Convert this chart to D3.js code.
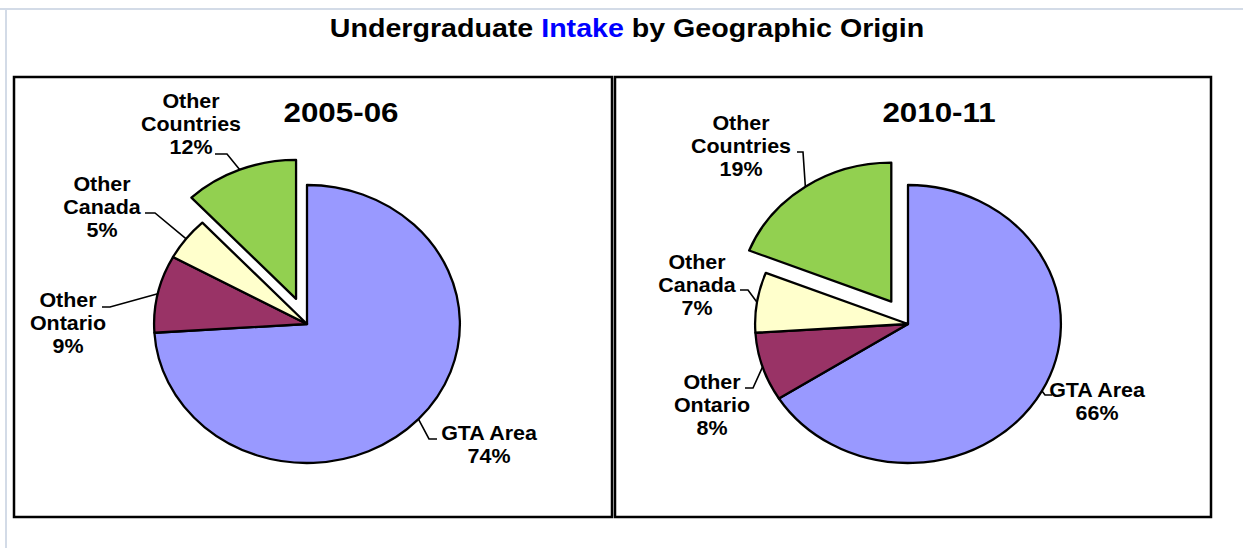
<!DOCTYPE html>
<html>
<head>
<meta charset="utf-8">
<script src="https://cdn.jsdelivr.net/npm/d3@7"></script>
<style>
  body { margin: 0; background: #fff; }
  text { font-family: "Liberation Sans", Arial, sans-serif; font-weight: bold; fill: #000; }
</style>
</head>
<body>
<div id="chart"></div>
<script>
// data
var categories = ["GTA Area", "Other Ontario", "Other Canada", "Other Countries"];
var years = ["2005-06", "2010-11"];
var shares2005 = [74, 9, 5, 12];
var shares2010 = [66, 8, 7, 19];
var labelNames = [["GTA Area"], ["Other", "Ontario"], ["Other", "Canada"], ["Other", "Countries"]];

var colors = ["#9999FF", "#993366", "#FFFFCC", "#92D050"];

var width = 1243, height = 548;
var sx = 1.1; // the source picture is stretched sideways
var radius = 139, explode = 27;

var svg = d3.select("#chart").append("svg")
  .attr("width", width)
  .attr("height", height);

// faint frame of the page
svg.append("line").attr("x1", 0).attr("x2", width).attr("y1", 9).attr("y2", 9)
  .attr("stroke", "#d3dbe7").attr("stroke-width", 2);
svg.append("line").attr("x1", 6).attr("x2", 6).attr("y1", 9).attr("y2", height)
  .attr("stroke", "#d3dbe7").attr("stroke-width", 2);

// title
var title = svg.append("text")
  .attr("transform", "translate(627,37) scale(" + sx + ",1)")
  .attr("text-anchor", "middle")
  .style("font-size", "26px");
title.append("tspan").text("Undergraduate ");
title.append("tspan").style("fill", "#0000ff").text("Intake");
title.append("tspan").text(" by Geographic Origin");

// panels
var panels = [
  { year: years[0], values: shares2005, box: [14, 77, 598, 440], cx: 307, cy: 324, titleX: 341,
    labels: [
      { x: 489, y: 440, elbow: [429, 439], end: [437, 439] },
      { x: 68, y: 307, elbow: [110, 307], end: [102, 307] },
      { x: 102, y: 191, elbow: [155, 213], end: [145, 213] },
      { x: 191, y: 108, elbow: [227, 154], end: [215, 154] }
    ] },
  { year: years[1], values: shares2010, box: [615, 77, 596, 440], cx: 908, cy: 324, titleX: 939,
    labels: [
      { x: 1097, y: 397, elbow: [1045, 395], end: [1052, 395] },
      { x: 712, y: 389, elbow: [753, 388], end: [745, 388] },
      { x: 697, y: 269, elbow: [748, 290], end: [740, 290] },
      { x: 741, y: 130, elbow: [803, 152], end: [797, 152] }
    ] }
];

var pie = d3.pie().sort(null).value(d => d);
var arc = d3.arc().innerRadius(0).outerRadius(radius);

panels.forEach(function(p) {
  var g = svg.append("g");

  g.append("rect")
    .attr("x", p.box[0]).attr("y", p.box[1])
    .attr("width", p.box[2]).attr("height", p.box[3])
    .attr("fill", "#fff")
    .attr("stroke", "#000")
    .attr("stroke-width", 2.5);

  g.append("text")
    .attr("transform", "translate(" + p.titleX + ",122) scale(" + sx + ",1)")
    .attr("text-anchor", "middle")
    .style("font-size", "28.5px")
    .text(p.year);

  var arcs = pie(p.values);
  var last = arcs.length - 1;

  function offset(d, i) {
    if (i !== last) return [0, 0];
    var a = (d.startAngle + d.endAngle) / 2;
    return [Math.sin(a) * explode * sx, -Math.cos(a) * explode];
  }

  g.append("g").selectAll("path")
    .data(arcs)
    .enter().append("path")
      .attr("transform", (d, i) => {
        var o = offset(d, i);
        return "translate(" + (p.cx + o[0]) + "," + (p.cy + o[1]) + ") scale(" + sx + ",1)";
      })
      .attr("d", arc)
      .attr("fill", (d, i) => colors[i])
      .attr("stroke", "#000")
      .attr("stroke-width", 2.3)
      .attr("stroke-linejoin", "round")
      .attr("vector-effect", "non-scaling-stroke");

  // leader lines and labels
  arcs.forEach(function(d, i) {
    var a = (d.startAngle + d.endAngle) / 2;
    var o = offset(d, i);
    var start = [p.cx + o[0] + Math.sin(a) * radius * sx, p.cy + o[1] - Math.cos(a) * radius];
    var L = p.labels[i];

    g.append("path")
      .attr("d", d3.line()([start, L.elbow, L.end]))
      .attr("fill", "none")
      .attr("stroke", "#000")
      .attr("stroke-width", 1.6);

    var lines = labelNames[i].concat([d.data + "%"]);
    lines.forEach(function(s, k) {
      g.append("text")
        .attr("transform", "translate(" + L.x + "," + (L.y + k * 23) + ") scale(" + sx + ",1)")
        .attr("text-anchor", "middle")
        .style("font-size", "19.5px")
        .text(s);
    });
  });
});
</script>
</body>
</html>
